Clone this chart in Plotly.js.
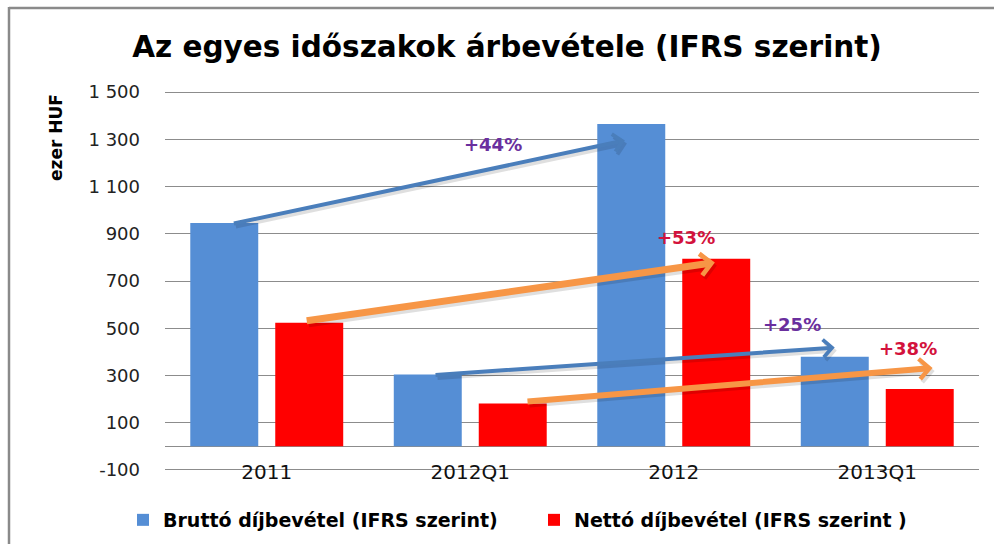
<!DOCTYPE html>
<html>
<head>
<meta charset="utf-8">
<script src="https://cdn.plot.ly/plotly-3.0.1.min.js"></script>
<style>
html,body{margin:0;padding:0;background:#fff;}
#chart{width:994px;height:544px;}
</style>
</head>
<body>
<div id="chart"></div>
<script>
// ---- data ----
const categories = ['2011', '2012Q1', '2012', '2013Q1'];
const bruttoValues = [946, 304, 1365, 379];
const nettoValues = [523, 181, 794, 243];
const seriesNames = ['Bruttó díjbevétel (IFRS szerint)', 'Nettó díjbevétel (IFRS szerint )'];
const yTickVals = [-100, 100, 300, 500, 700, 900, 1100, 1300, 1500];
const yTickText = ['-100', '100', '300', '500', '700', '900', '1 100', '1 300', '1 500'];
const growthLabels = ['+44%', '+53%', '+25%', '+38%'];

// ---- layout helpers ----
const W = 994, H = 544;
const M = {l: 165, r: 15, t: 90, b: 72, autoexpand: false};
const pw = W - M.l - M.r, ph = H - M.t - M.b;
const px2x = p => (p - M.l) / pw;
const py2y = p => (H - M.b - p) / ph;

// growth arrows (category index / value coordinates)
const arrows = [
  {fx: -0.169, fy: 942, tx: 1.76, ty: 1295, c: '#4a7ebb', w: 4, s: 0.85},
  {fx: 0.189, fy: 531, tx: 2.202, ty: 778, c: '#f79646', w: 7, s: 0.6},
  {fx: 0.822, fy: 302, tx: 2.791, ty: 418, c: '#4a7ebb', w: 4, s: 0.85},
  {fx: 1.274, fy: 189, tx: 3.272, ty: 332, c: '#f79646', w: 6, s: 0.65}
];
const labelPos = [
  {x: 1.112, y: 1277, c: '#6a2f9e'},
  {x: 2.059, y: 883, c: '#d3123c'},
  {x: 2.579, y: 518, c: '#6a2f9e'},
  {x: 3.149, y: 413, c: '#d3123c'}
];

const traces = [
  {type: 'bar', x: categories, y: bruttoValues, name: '<b>' + seriesNames[0] + '</b>',
   marker: {color: '#558ed5'}, hoverinfo: 'none'},
  {type: 'bar', x: categories, y: nettoValues, name: '<b>' + seriesNames[1] + '</b>',
   marker: {color: '#ff0000'}, hoverinfo: 'none'}
];

const annotations = [];
arrows.forEach(a => {
  // shadow
  annotations.push({xref: 'x', yref: 'y', axref: 'x', ayref: 'y',
    x: a.tx, y: a.ty, ax: a.fx, ay: a.fy, text: '', showarrow: true,
    arrowhead: 4, arrowsize: a.s, arrowwidth: a.w, arrowcolor: 'rgba(0,0,0,0.12)',
    xshift: 2, yshift: -3});
  annotations.push({xref: 'x', yref: 'y', axref: 'x', ayref: 'y',
    x: a.tx, y: a.ty, ax: a.fx, ay: a.fy, text: '', showarrow: true,
    arrowhead: 4, arrowsize: a.s, arrowwidth: a.w, arrowcolor: a.c});
});
growthLabels.forEach((t, i) => {
  annotations.push({xref: 'x', yref: 'y', x: labelPos[i].x, y: labelPos[i].y,
    text: '<b>' + t + '</b>', showarrow: false,
    font: {family: 'DejaVu Sans', size: 18, color: labelPos[i].c}});
});
// y axis title
annotations.push({xref: 'paper', yref: 'paper', x: px2x(56), y: py2y(138),
  xanchor: 'center', yanchor: 'middle',
  text: '<b>ezer HUF</b>', textangle: -90, showarrow: false,
  font: {family: 'DejaVu Sans', size: 17, color: '#000'}});

const shapes = [
  {type: 'line', xref: 'paper', yref: 'paper', x0: px2x(9), x1: px2x(1000), y0: py2y(8), y1: py2y(8),
   line: {color: '#8a8a8a', width: 2.5}},
  {type: 'line', xref: 'paper', yref: 'paper', x0: px2x(9), x1: px2x(9), y0: py2y(7), y1: py2y(550),
   line: {color: '#8a8a8a', width: 2.5}}
];

const layout = {
  width: W, height: H,
  margin: M,
  paper_bgcolor: '#ffffff', plot_bgcolor: '#ffffff',
  title: {text: '<b>Az egyes időszakok árbevétele (IFRS szerint)</b>',
    font: {family: 'DejaVu Sans', size: 29.5, color: '#000'},
    x: 507 / W, xref: 'container', xanchor: 'center',
    y: 1 - 47 / H, yref: 'container', yanchor: 'middle'},
  barmode: 'group', bargap: 0.165, bargroupgap: 0.2,
  xaxis: {type: 'category', showgrid: false, showline: false, ticks: '',
    tickfont: {family: 'DejaVu Sans', size: 20, color: '#111'},
    ticklabelstandoff: -14, fixedrange: true},
  yaxis: {range: [-108.5, 1508.5], tickvals: yTickVals, ticktext: yTickText,
    showgrid: true, gridcolor: '#8c8c8c', gridwidth: 1,
    zeroline: true, zerolinecolor: '#8c8c8c', zerolinewidth: 1.2,
    showline: false, ticks: '', ticklabelstandoff: 24,
    tickfont: {family: 'DejaVu Sans', size: 18, color: '#222'}, fixedrange: true},
  showlegend: true,
  legend: {orientation: 'h', x: px2x(123), xanchor: 'left', y: py2y(501), yanchor: 'top',
    entrywidth: 366, entrywidthmode: 'pixels',
    font: {family: 'DejaVu Sans', size: 19, color: '#000'}, itemclick: false, itemdoubleclick: false,
    traceorder: 'normal'},
  annotations: annotations,
  shapes: shapes
};

Plotly.newPlot('chart', traces, layout, {displayModeBar: false, staticPlot: true});
</script>
</body>
</html>
